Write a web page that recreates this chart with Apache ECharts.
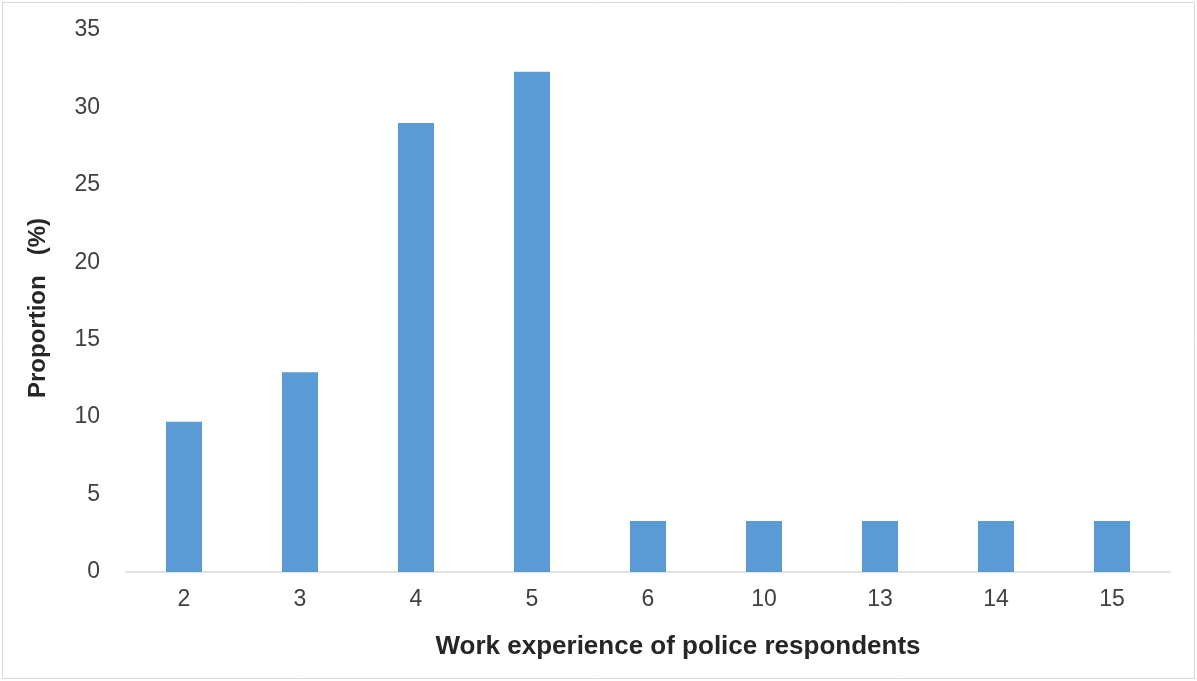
<!DOCTYPE html>
<html>
<head>
<meta charset="utf-8">
<script src="https://cdn.jsdelivr.net/npm/echarts@6/dist/echarts.min.js"></script>
<style>
html,body{margin:0;padding:0;background:#fff;}
#chart{width:1197px;height:681px;}
</style>
</head>
<body>
<div id="chart"></div>
<script>
const categories = ['2', '3', '4', '5', '6', '10', '13', '14', '15'];
const proportions = [9.7, 12.9, 29.0, 32.3, 3.3, 3.3, 3.3, 3.3, 3.3];
const yTicks = [0, 5, 10, 15, 20, 25, 30, 35];

const chart = echarts.init(document.getElementById('chart'));
const font = 'Liberation Sans, Arial, sans-serif';
chart.setOption({
  animation: false,
  backgroundColor: '#fff',
  graphic: [{
    type: 'rect',
    shape: { x: 2.5, y: 2.5, width: 1192, height: 676 },
    style: { fill: 'none', stroke: '#D9D9D9', lineWidth: 1 },
    silent: true
  }],
  grid: { left: 126, right: 27, top: 30, bottom: 109 },
  xAxis: {
    type: 'category',
    data: categories,
    name: 'Work experience of police respondents',
    nameLocation: 'middle',
    nameGap: 62,
    nameTextStyle: { fontFamily: font, fontSize: 26, fontWeight: 'bold', color: '#262626', padding: [0, 0, 0, 60] },
    axisLine: { lineStyle: { color: '#D9D9D9', width: 1.5 } },
    axisTick: { show: false },
    axisLabel: { fontFamily: font, fontSize: 23, color: '#404040', margin: 16 }
  },
  yAxis: {
    type: 'value',
    min: yTicks[0],
    max: yTicks[yTicks.length - 1],
    interval: 5,
    name: 'Proportion   (%)',
    nameLocation: 'middle',
    nameGap: 76,
    nameTextStyle: { fontFamily: font, fontSize: 24, fontWeight: 'bold', color: '#262626', padding: [0, 14, 0, 0] },
    axisLine: { show: false },
    axisTick: { show: false },
    splitLine: { show: false },
    axisLabel: { fontFamily: font, fontSize: 23, color: '#404040', margin: 26 }
  },
  series: [{
    type: 'bar',
    data: proportions,
    barWidth: 36,
    itemStyle: { color: '#5B9BD5' }
  }]
});
</script>
</body>
</html>
